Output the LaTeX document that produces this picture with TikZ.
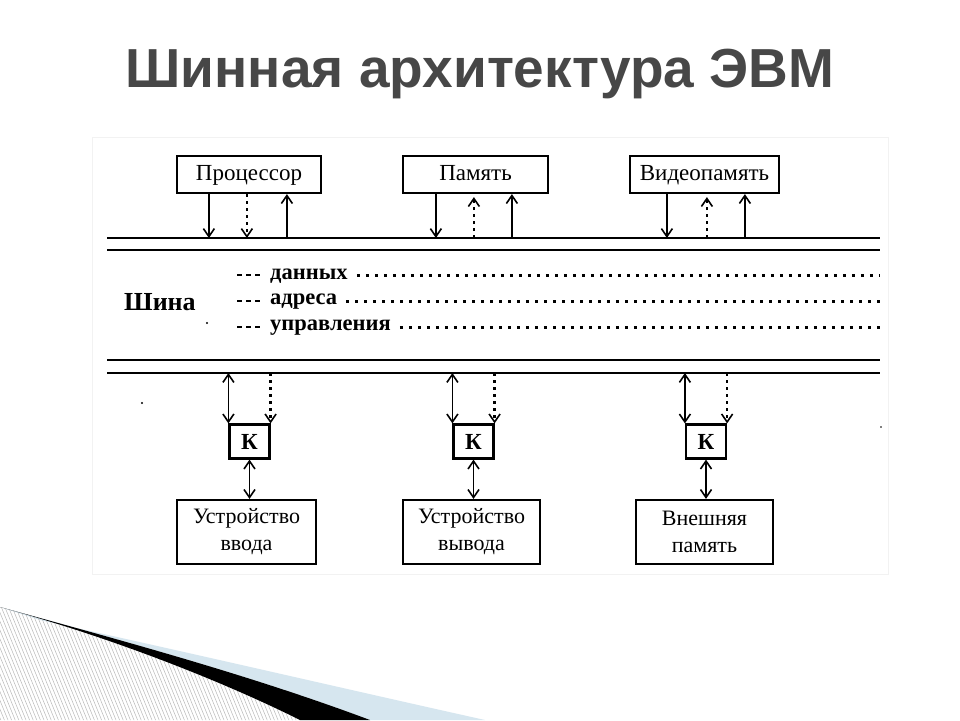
\documentclass[tikz,border=0pt]{standalone}
\usepackage{fontspec}
\setmainfont{Liberation Serif}
\newfontfamily\titlefont{Liberation Sans}
\usetikzlibrary{arrows.meta,calc}
\definecolor{titlegray}{HTML}{474747}
\definecolor{swooshblue}{HTML}{D6E6EF}
\begin{document}
\begin{tikzpicture}[x=1pt,y=-1pt,
  box/.style={draw,line width=2.2pt,inner sep=0pt,minimum height=37pt,text height=16pt,text depth=5pt,font=\fontsize{23}{26}\selectfont},
  devbox/.style={draw,line width=2.2pt,inner sep=0pt,minimum height=64pt,align=center,font=\fontsize{22}{27}\selectfont},
  kbox/.style={draw,line width=2.2pt,inner sep=0pt,minimum width=40pt,minimum height=34pt,font=\bfseries\fontsize{23}{24}\selectfont},
  tip/.tip={Straight Barb[length=8pt,width=11pt,line width=1.6pt]},
  arr/.style={line width=1.6pt,-tip},
  darr/.style={line width=1.6pt,tip-tip},
  dotarr/.style={arr,line width=2.6pt,dash pattern=on 2.8pt off 4.2pt},
  busline/.style={line width=1.4pt},
  busthick/.style={line width=2.8pt},
  dotline/.style={line width=3pt,dash pattern=on 2.8pt off 6.2pt},
  dashlead/.style={line width=2.6pt,dash pattern=on 4.5pt off 4.5pt},
  buslabel/.style={anchor=west,inner sep=0pt,font=\bfseries\fontsize{22.5}{24}\selectfont}
]
\useasboundingbox (0,0) rectangle (960,720);
\fill[white] (0,0) rectangle (960,720);

% swoosh decoration
\fill[swooshblue] (40,620) .. controls (200,655) and (350,690) .. (485,720) -- (370,720)
   .. controls (250,675) and (120,640) .. (0,607) -- cycle;
\begin{scope}
  \clip (0,607) .. controls (120,640) and (230,685) .. (300,720) -- (0,720) -- cycle;
  \foreach \i in {-70,-66.4,...,310} {
    \draw[gray!55,line width=0.5pt] (\i,600) -- (\i+50,722);
  }
\end{scope}
\fill[black] (0,607) .. controls (120,640) and (250,675) .. (370,720) -- (300,720)
   .. controls (230,685) and (120,640) .. (0,607) -- cycle;

% title
\node[text=titlegray,font=\titlefont\bfseries\fontsize{55}{58}\selectfont] (title) at (480,74) {Шинная архитектура ЭВМ};

% diagram panel
\draw[black!5,fill=white] (92,137) rectangle (888,574);

% bus lines
\coordinate (busT) at (107,238);
\coordinate (busT2) at (107,250);
\coordinate (busB) at (107,360);
\coordinate (busB2) at (107,373);
\coordinate (busEnd) at (880,0);
\draw[busline] (busT) -- (busT -| busEnd);
\draw[busthick] (busT2) -- (busT2 -| busEnd);
\draw[busline] (busB) -- (busB -| busEnd);
\draw[busthick] (busB2) -- (busB2 -| busEnd);

% top boxes
\node[box,minimum width=144pt] (proc) at (249,174.5) {Процессор};
\node[box,minimum width=145pt] (mem) at (475.5,174.5) {Память};
\node[box,minimum width=149pt] (vmem) at (704.5,174.5) {Видеопамять};

% processor arrows
\draw[arr] ([xshift=33pt]proc.south west) -- ([xshift=33pt]proc.south west |- busT);
\draw[dotarr] ([xshift=71pt]proc.south west) -- ([xshift=71pt]proc.south west |- busT);
\draw[arr] ([xshift=111pt]proc.south west |- busT) -- ([xshift=111pt]proc.south west);
% memory arrows
\draw[arr] ([xshift=34pt]mem.south west) -- ([xshift=34pt]mem.south west |- busT);
\draw[dotarr] ([xshift=72pt]mem.south west |- busT) -- ([xshift=72pt,yshift=-3pt]mem.south west);
\draw[arr] ([xshift=110pt]mem.south west |- busT) -- ([xshift=110pt]mem.south west);
% video memory arrows
\draw[arr] ([xshift=38pt]vmem.south west) -- ([xshift=38pt]vmem.south west |- busT);
\draw[dotarr] ([xshift=78pt]vmem.south west |- busT) -- ([xshift=78pt,yshift=-3pt]vmem.south west);
\draw[arr] ([xshift=116pt]vmem.south west |- busT) -- ([xshift=116pt]vmem.south west);

% bus text
\node[anchor=west,inner sep=0pt,font=\bfseries\fontsize{26}{28}\selectfont] (shina) at (124,302) {Шина};
\node[buslabel] (ld) at (270,276) {данных};
\node[buslabel] (la) at (270,302) {адреса};
\node[buslabel] (lu) at (270,328) {управления};
\foreach \n in {ld,la,lu} {
  \draw[dashlead] ([xshift=-33pt,yshift=1pt]\n.west) -- ([xshift=-6pt,yshift=1pt]\n.west);
  \draw[dotline] ([xshift=9pt,yshift=1pt]\n.east) -- ([yshift=1pt]\n.east -| busEnd);
}

% controllers
\node[kbox] (k1) at (249.5,441.5) {К};
\node[kbox] (k2) at (473.5,441.5) {К};
\node[kbox] (k3) at (706,441.5) {К};

% devices
\node[devbox,minimum width=139pt] (d1) at (246.5,532) {Устройство\\ввода};
\node[devbox,minimum width=137pt] (d2) at (471.5,532) {Устройство\\вывода};
\node[devbox,minimum width=137pt] (d3) at (704.5,532) {Внешняя\\память};

\foreach \k/\d in {k1/d1,k2/d2,k3/d3} {
  \draw[darr] (\k.north west |- busB2) -- (\k.north west);
  \draw[dotarr] (\k.north east |- busB2) -- (\k.north east);
  \draw[darr] (\k.south) -- (\k.south |- \d.north);
}

% scan specks
\fill (207,323) circle (1.2pt);
\fill (142,403) circle (1.2pt);
\fill (881,427) circle (0.9pt);
\end{tikzpicture}
\end{document}
